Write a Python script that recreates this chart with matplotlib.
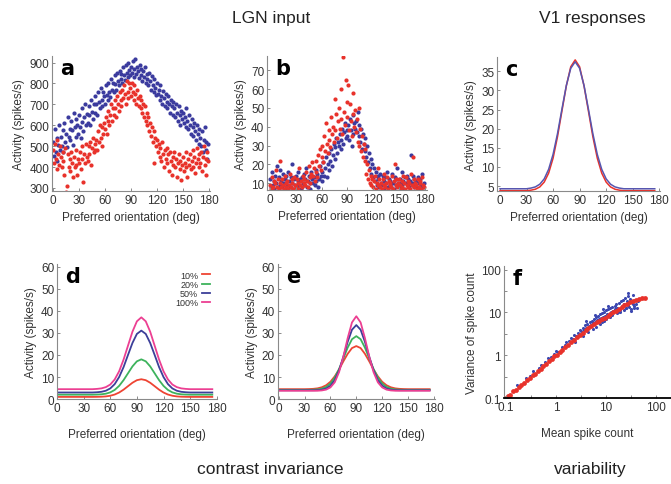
import numpy as np
import matplotlib.pyplot as plt

# ==========================================
# DATA
# ==========================================
# panel a - LGN input, one neuron per degree of preferred orientation
ori_deg = np.arange(180)

lgn_a_blue = [
    520, 455, 580, 470, 540, 430, 505, 600, 480, 545,
    500, 575, 470, 610, 520, 560, 495, 640, 545, 580,
    530, 620, 575, 505, 660, 590, 545, 630, 600, 560,
    650, 590, 540, 680, 615, 570, 640, 700, 600, 655,
    610, 690, 650, 600, 720, 665, 630, 700, 740, 660,
    700, 650, 760, 710, 680, 780, 720, 690, 760, 740,
    700, 790, 745, 720, 800, 760, 735, 820, 770, 800,
    760, 840, 795, 770, 850, 810, 790, 860, 820, 845,
    800, 880, 840, 815, 890, 850, 830, 900, 865, 840,
    880, 850, 905, 830, 870, 915, 845, 880, 860, 825,
    890, 840, 870, 810, 860, 830, 880, 800, 845, 820,
    790, 850, 810, 770, 835, 790, 760, 820, 780, 745,
    800, 750, 770, 720, 790, 740, 700, 765, 730, 690,
    750, 710, 680, 740, 700, 660, 720, 690, 650, 710,
    680, 640, 700, 660, 620, 690, 650, 600, 670, 630,
    660, 610, 640, 590, 680, 620, 580, 650, 600, 560,
    630, 590, 550, 610, 570, 530, 600, 560, 510, 580,
    540, 500, 570, 470, 530, 590, 480, 520, 440, 510,
]
lgn_a_red = [
    480, 420, 510, 440, 390, 530, 460, 410, 500, 450,
    400, 470, 430, 360, 490, 280, 310, 460, 400, 440,
    380, 470, 420, 350, 450, 400, 480, 410, 360, 440,
    420, 470, 390, 500, 440, 330, 460, 420, 510, 450,
    430, 500, 460, 520, 410, 490, 540, 470, 510, 480,
    530, 480, 570, 520, 600, 540, 500, 590, 560, 610,
    580, 640, 560, 620, 670, 600, 650, 700, 620, 680,
    650, 720, 680, 640, 740, 700, 670, 760, 720, 690,
    770, 730, 790, 750, 700, 810, 760, 730, 800, 780,
    740, 800, 760, 720, 790, 750, 700, 770, 730, 690,
    740, 680, 720, 660, 700, 640, 690, 620, 660, 600,
    640, 570, 610, 550, 590, 520, 570, 420, 540, 500,
    530, 470, 510, 450, 490, 430, 520, 460, 400, 480,
    440, 490, 420, 460, 380, 470, 430, 360, 450, 410,
    470, 400, 440, 350, 420, 460, 390, 430, 340, 410,
    450, 380, 420, 470, 400, 350, 440, 410, 460, 390,
    430, 480, 400, 450, 370, 420, 490, 440, 400, 460,
    420, 470, 380, 450, 500, 410, 440, 360, 470, 430,
]

# panel b
lgn_b_blue = [
    12, 8, 16, 9, 11, 7, 14, 10, 19, 8,
    13, 9, 17, 11, 8, 15, 10, 12, 7, 14,
    9, 16, 11, 8, 13, 20, 10, 7, 12, 9,
    14, 8, 11, 16, 9, 12, 7, 13, 10, 15,
    9, 12, 18, 8, 11, 14, 10, 7, 16, 12,
    10, 13, 9, 17, 11, 15, 8, 12, 19, 14,
    16, 11, 21, 14, 18, 24, 13, 20, 26, 17,
    22, 28, 19, 25, 31, 23, 29, 34, 26, 32,
    30, 36, 28, 33, 39, 31, 37, 42, 34, 38,
    35, 41, 33, 44, 38, 30, 46, 36, 42, 39,
    43, 37, 48, 35, 41, 32, 39, 28, 36, 31,
    27, 34, 24, 30, 21, 26, 18, 23, 15, 20,
    13, 18, 11, 16, 9, 14, 12, 8, 15, 10,
    9, 14, 11, 7, 13, 10, 16, 8, 12, 9,
    11, 8, 15, 10, 7, 13, 9, 12, 18, 10,
    8, 12, 10, 16, 9, 11, 7, 13, 10, 14,
    9, 12, 8, 11, 25, 10, 14, 8, 12, 9,
    11, 8, 13, 10, 7, 12, 9, 15, 8, 10,
]
lgn_b_red = [
    9, 7, 13, 8, 11, 6, 10, 17, 8, 12,
    7, 10, 22, 8, 12, 9, 7, 14, 10, 8,
    11, 7, 9, 15, 8, 12, 10, 7, 13, 9,
    8, 12, 10, 7, 18, 9, 11, 8, 14, 10,
    12, 9, 16, 11, 8, 19, 13, 10, 15, 21,
    14, 18, 11, 22, 16, 13, 25, 19, 28, 17,
    24, 30, 21, 35, 27, 42, 31, 26, 38, 33,
    29, 45, 36, 40, 32, 55, 38, 47, 34, 43,
    50, 39, 60, 44, 36, 77, 48, 41, 65, 53,
    45, 62, 38, 52, 43, 35, 58, 47, 40, 49,
    37, 44, 32, 50, 30, 39, 27, 35, 24, 31,
    22, 28, 15, 20, 12, 17, 10, 14, 9, 12,
    8, 11, 14, 7, 10, 18, 9, 12, 8, 10,
    7, 12, 9, 15, 8, 10, 13, 7, 11, 9,
    10, 8, 14, 7, 11, 20, 9, 12, 8, 10,
    12, 9, 7, 11, 8, 14, 10, 7, 13, 9,
    8, 11, 10, 7, 15, 9, 24, 8, 12, 10,
    9, 7, 12, 8, 11, 10, 7, 13, 9, 8,
]

# panels c-e: smooth tuning curves sampled every 5 deg
ori_5 = np.arange(0, 180, 5)

v1_c_red = [3.8] * 7 + [3.93, 4.18, 4.78, 6.05, 8.4, 12.3, 17.9, 24.6, 31.2, 36.2, 38.0,
                        36.2, 31.2, 24.6, 17.9, 12.3, 8.4, 6.05, 4.78, 4.18, 3.93] + [3.8] * 8
v1_c_blue = [4.3] * 7 + [4.48, 4.79, 5.49, 6.89, 9.4, 13.3, 18.7, 25.1, 31.3, 35.8, 37.5,
                         35.8, 31.3, 25.1, 18.7, 13.3, 9.4, 6.89, 5.49, 4.79, 4.48] + [4.3] * 8

contrast_labels = ["10%", "20%", "50%", "100%"]
contrast_colors = ["#ee4433", "#3db35c", "#3c3f99", "#ec3f92"]

d_curves = [
    [1.0] * 9 + [1.03, 1.09, 1.23, 1.53, 2.08, 2.99, 4.29, 5.86, 7.41, 8.57, 9.0,
                 8.57, 7.41, 5.86, 4.29, 2.99, 2.08, 1.53, 1.23, 1.09, 1.03] + [1.0] * 6,
    [2.0] * 9 + [2.06, 2.18, 2.46, 3.05, 4.16, 6.0, 8.6, 11.7, 14.8, 17.1, 18.0,
                 17.1, 14.8, 11.7, 8.6, 6.0, 4.16, 3.05, 2.46, 2.18, 2.06] + [2.0] * 6,
    [3.0] * 9 + [3.11, 3.31, 3.8, 4.84, 6.8, 10.0, 14.5, 20.0, 25.4, 29.5, 31.0,
                 29.5, 25.4, 20.0, 14.5, 10.0, 6.8, 4.84, 3.8, 3.31, 3.11] + [3.0] * 6,
    [4.5] * 9 + [4.63, 4.86, 5.43, 6.6, 8.9, 12.6, 17.9, 24.2, 30.5, 35.2, 37.0,
                 35.2, 30.5, 24.2, 17.9, 12.6, 8.9, 6.6, 5.43, 4.86, 4.63] + [4.5] * 6,
]

e_curves = [
    [4.5] * 7 + [4.55, 4.65, 4.87, 5.36, 6.28, 7.85, 10.3, 13.4, 17.1, 20.5, 23.1, 24.0,
                 23.1, 20.5, 17.1, 13.4, 10.3, 7.85, 6.28, 5.36, 4.87, 4.65, 4.55] + [4.5] * 6,
    [4.2] * 8 + [4.26, 4.4, 4.74, 5.52, 7.06, 9.7, 13.6, 18.4, 23.3, 27.1, 28.5,
                 27.1, 23.3, 18.4, 13.6, 9.7, 7.06, 5.52, 4.74, 4.4, 4.26] + [4.2] * 7,
    [4.0] * 9 + [4.07, 4.26, 4.79, 6.06, 8.6, 13.0, 19.2, 25.9, 31.4, 33.5,
                 31.4, 25.9, 19.2, 13.0, 8.6, 6.06, 4.79, 4.26, 4.07] + [4.0] * 8,
    [3.8] * 10 + [3.93, 4.3, 5.3, 7.6, 12.2, 19.2, 27.6, 34.7, 37.5,
                  34.7, 27.6, 19.2, 12.2, 7.6, 5.3, 4.3, 3.93] + [3.8] * 9,
]

# panel f - variability
f_red_mean = [0.1, 0.11, 0.12, 0.14, 0.16, 0.18, 0.2, 0.23, 0.26, 0.3, 0.34, 0.38, 0.43,
              0.5, 0.56, 0.63, 0.72, 0.82, 0.93, 1.05, 1.2, 1.35, 1.55, 1.75, 2.0, 2.3,
              2.6, 3.0, 3.4, 3.9, 4.4, 5.0, 5.7, 6.5, 7.4, 8.4, 9.5, 10.8, 12.3, 14, 16,
              18, 20.5, 23, 26, 30, 34, 39, 45, 52, 60]
f_red_var = [0.1, 0.115, 0.118, 0.145, 0.155, 0.185, 0.205, 0.225, 0.265, 0.29, 0.35, 0.37,
             0.44, 0.49, 0.575, 0.62, 0.73, 0.8, 0.95, 1.03, 1.22, 1.32, 1.57, 1.72, 2.02,
             2.25, 2.62, 2.95, 3.35, 3.8, 4.25, 4.75, 5.25, 5.85, 6.35, 6.95, 7.6, 8.25,
             9.0, 10.0, 11.1, 12.2, 13.3, 14.6, 15.9, 17.4, 18.7, 20.0, 21.0, 21.8, 22.3]

f_blue_mean = [0.17, 0.25, 0.3, 0.35, 0.45, 0.5, 0.6, 0.7, 0.8, 0.9, 1.0, 1.1,
               1.3, 1.5, 1.6, 1.8, 2.0, 2.2, 2.3, 2.5, 2.7, 2.9, 3.0, 3.2, 3.4, 3.6,
               3.8, 4.0, 4.2, 4.5, 4.7, 5.0, 5.2, 5.5, 5.8, 6.0,
               6.3, 6.6, 7.0, 7.3, 7.7, 8.0, 8.4, 8.8, 9.2, 9.6, 10, 10.5, 11, 11.5,
               12, 12.5, 13, 14, 15, 15.5, 16, 17, 18, 19, 20, 21, 22, 23, 24, 25,
               26, 27, 28, 30, 31, 33, 35, 36, 38, 40, 42, 44,
               2.4, 3.5, 4.3, 5.5, 6.2, 7.5, 8.2, 9.0, 10.2, 12.0, 13.5, 16.5,
               19.5, 22.5, 25.5, 28.5, 32, 34, 37, 3.9, 5.9, 8.6, 11.2, 17.5, 27.5]
f_blue_var = [0.2, 0.3, 0.33, 0.42, 0.5, 0.6, 0.7, 0.85, 0.9, 1.1, 1.25, 1.2,
              1.6, 1.7, 2.1, 2.2, 2.6, 2.4, 3.0, 2.9, 3.4, 3.2, 4.0, 3.6, 4.4, 3.9,
              5.0, 4.3, 5.3, 4.8, 6.0, 5.2, 6.4, 5.6, 7.2, 6.1,
              7.8, 6.5, 8.4, 7.0, 9.0, 7.4, 9.6, 8.0, 10.5, 8.4, 11.2, 9.0, 12, 8.6,
              12.8, 10.2, 13.5, 11, 14.5, 12, 16, 13, 17, 11.5, 18.5, 14, 20, 16, 22, 13,
              19, 24, 15, 21, 12, 18, 26, 14, 20, 16, 13, 19,
              2.0, 2.8, 3.5, 4.1, 4.6, 5.5, 5.9, 6.4, 7.0, 7.9, 8.5, 9.8,
              10.5, 11.5, 12.5, 13.5, 11.0, 15.5, 12.5, 6.2, 8.8, 11.8, 14.2, 10.4, 28]

# ==========================================
# STYLE
# ==========================================
plt.rcParams["font.family"] = ["Liberation Sans", "DejaVu Sans"]
TXT = "#333333"
SPINE = "#8a8a8a"
BLUE = "#3b3b9e"
RED = "#e8322b"

fig = plt.figure(figsize=(6.71, 4.85), dpi=100)


def style_axes(ax, letter):
    for side in ["top", "right"]:
        ax.spines[side].set_visible(False)
    for side in ["left", "bottom"]:
        ax.spines[side].set_color(SPINE)
        ax.spines[side].set_linewidth(0.8)
    ax.tick_params(direction="in", length=2.5, width=0.7, color=SPINE,
                   labelsize=8.5, labelcolor=TXT, pad=2)
    ax.text(0.05, 0.99, letter, transform=ax.transAxes, fontsize=15,
            fontweight="bold", va="top", ha="left", family="DejaVu Sans")


def orient_x(ax, xlim, labelpad=4):
    ax.set_xlim(*xlim)
    ax.set_xticks(np.arange(0, 181, 30))
    ax.set_xlabel("Preferred orientation (deg)", fontsize=8.5, color=TXT,
                  labelpad=labelpad)


# ---------- a ----------
ax_a = fig.add_axes([0.0775, 0.604, 0.2355, 0.278])
ax_a.scatter(ori_deg, lgn_a_blue, s=9, color=BLUE, linewidths=0)
ax_a.scatter(ori_deg, lgn_a_red, s=9, color=RED, linewidths=0)
ax_a.set_ylim(285, 930)
ax_a.set_yticks(np.arange(300, 901, 100))
orient_x(ax_a, (-1.2, 181.2))
ax_a.set_ylabel("Activity (spikes/s)", fontsize=8.5, color=TXT, labelpad=3)
style_axes(ax_a, "a")

# ---------- b ----------
ax_b = fig.add_axes([0.398, 0.606, 0.238, 0.276])
ax_b.scatter(ori_deg, lgn_b_blue, s=9, color=BLUE, linewidths=0)
ax_b.scatter(ori_deg, lgn_b_red, s=9, color=RED, linewidths=0)
ax_b.set_ylim(6.3, 77.5)
ax_b.set_yticks(np.arange(10, 71, 10))
orient_x(ax_b, (-3.5, 182.3))
ax_b.set_ylabel("Activity (spikes/s)", fontsize=8.5, color=TXT, labelpad=3)
style_axes(ax_b, "b")

# ---------- c ----------
ax_c = fig.add_axes([0.7407, 0.604, 0.243, 0.276])
ax_c.plot(ori_5, v1_c_red, color=RED, lw=1.1)
ax_c.plot(ori_5, v1_c_blue, color="#5656b0", lw=1.1)
ax_c.set_ylim(3.7, 38.7)
ax_c.set_yticks(np.arange(5, 36, 5))
orient_x(ax_c, (-3.4, 181))
ax_c.set_ylabel("Activity (spikes/s)", fontsize=8.5, color=TXT, labelpad=3)
style_axes(ax_c, "c")

# ---------- d ----------
ax_d = fig.add_axes([0.085, 0.175, 0.238, 0.278])
for vals, lab, col in zip(d_curves, contrast_labels, contrast_colors):
    ax_d.plot(ori_5, vals, color=col, lw=1.3, label=lab)
ax_d.set_ylim(0, 61)
ax_d.set_yticks(np.arange(0, 61, 10))
orient_x(ax_d, (0, 180), labelpad=10)
ax_d.set_ylabel("Activity (spikes/s)", fontsize=8.5, color=TXT, labelpad=3)
style_axes(ax_d, "d")
leg = ax_d.legend(loc="upper right", bbox_to_anchor=(0.98, 0.98), frameon=False,
                  fontsize=6.5, markerfirst=False, handlelength=0.9,
                  handletextpad=0.4, labelspacing=0.02, borderaxespad=0)
for t in leg.get_texts():
    t.set_color(TXT)

# ---------- e ----------
ax_e = fig.add_axes([0.414, 0.175, 0.234, 0.278])
for vals, col in zip(e_curves, contrast_colors):
    ax_e.plot(ori_5, vals, color=col, lw=1.3)
ax_e.set_ylim(0, 61)
ax_e.set_yticks(np.arange(0, 61, 10))
orient_x(ax_e, (-1, 181), labelpad=10)
ax_e.set_ylabel("Activity (spikes/s)", fontsize=8.5, color=TXT, labelpad=3)
style_axes(ax_e, "e")

# ---------- f ----------
ax_f = fig.add_axes([0.751, 0.177, 0.249, 0.272])
ax_f.scatter(f_blue_mean, f_blue_var, s=5, color="#3c48b0", linewidths=0)
ax_f.scatter(f_red_mean, f_red_var, s=12, color=RED, linewidths=0)
ax_f.set_xscale("log")
ax_f.set_yscale("log")
ax_f.set_xlim(0.091, 200)
ax_f.set_ylim(0.1, 120)
major = [0.1, 1, 10, 100]
ax_f.set_xticks(major)
ax_f.set_yticks(major)
ax_f.set_xticklabels(["0.1", "1", "10", "100"])
ax_f.set_yticklabels(["0.1", "1", "10", "100"])
ax_f.set_xticks([0.316, 3.16, 31.6], minor=True)
ax_f.set_yticks([0.316, 3.16, 31.6], minor=True)
ax_f.set_xticklabels([], minor=True)
ax_f.set_yticklabels([], minor=True)
ax_f.set_xlabel("Mean spike count", fontsize=8.5, color=TXT, labelpad=10)
ax_f.set_ylabel("Variance of spike count", fontsize=8.5, color=TXT, labelpad=2)
style_axes(ax_f, "f")
ax_f.tick_params(which="minor", direction="in", length=2.5, width=0.7, color=SPINE)
ax_f.spines["bottom"].set_color("black")
ax_f.spines["bottom"].set_linewidth(1.3)

# ---------- headings ----------
fig.text(271 / 671, 1 - 18 / 485, "LGN input", ha="center", va="center", fontsize=12.5, color="#222222")
fig.text(592 / 671, 1 - 18 / 485, "V1 responses", ha="center", va="center", fontsize=12.5, color="#222222")
fig.text(270 / 671, 1 - 470 / 485, "contrast invariance", ha="center", va="center", fontsize=12.5, color="#222222")
fig.text(590 / 671, 1 - 470 / 485, "variability", ha="center", va="center", fontsize=12.5, color="#222222")

fig.savefig("out.png", dpi=100)
